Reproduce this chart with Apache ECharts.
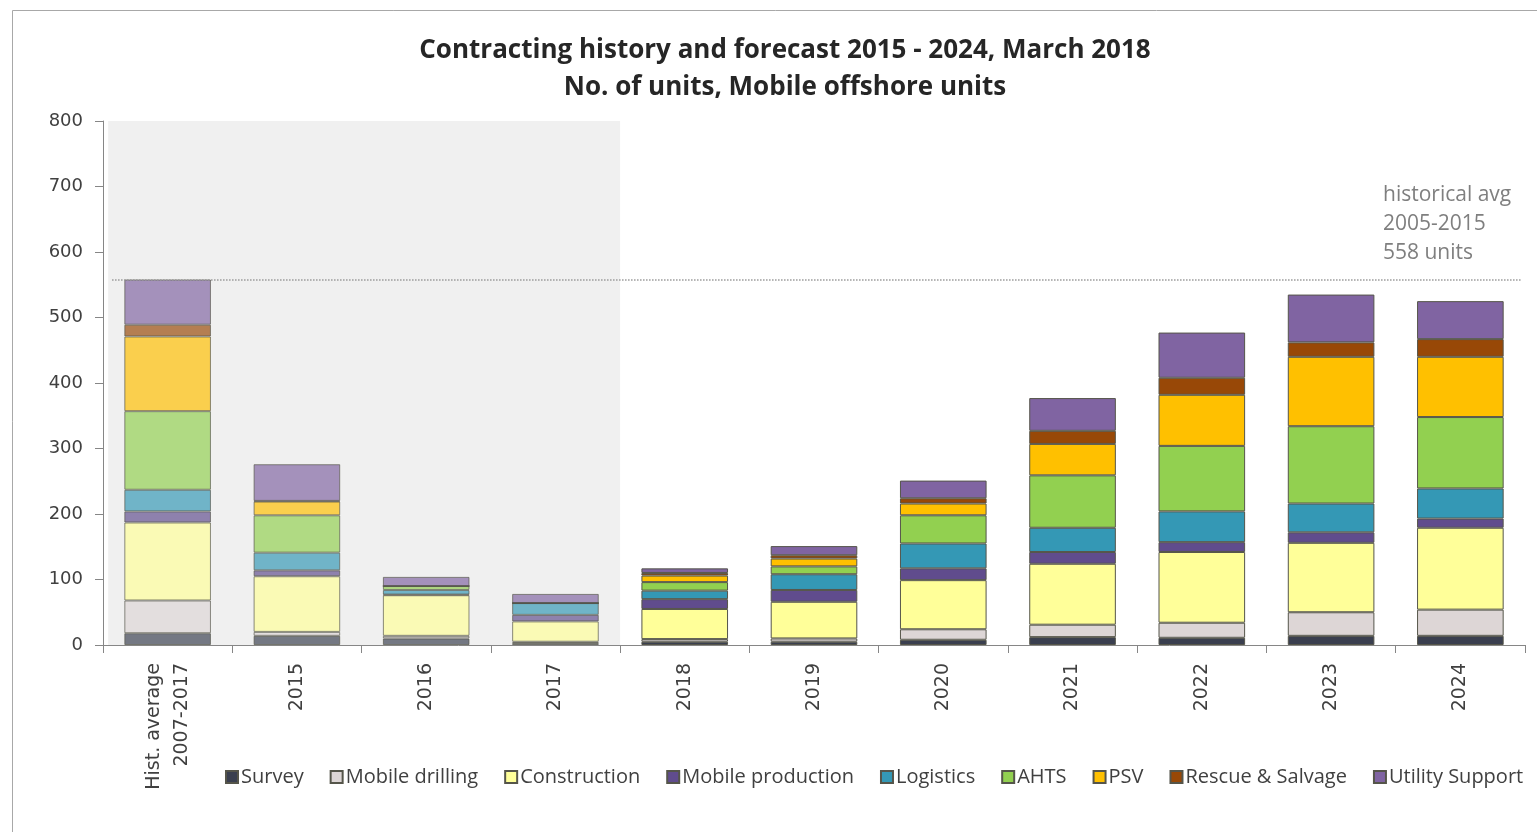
<!DOCTYPE html>
<html>
<head>
<meta charset="utf-8">
<script src="https://cdn.jsdelivr.net/npm/echarts@6/dist/echarts.min.js"></script>
<style>
html,body{margin:0;padding:0;background:#fff;}
#chart{width:1537px;height:832px;}
</style>
</head>
<body>
<div id="chart"></div>
<script>
const categories = ['Hist. average\n2007-2017','2015','2016','2017','2018','2019','2020','2021','2022','2023','2024'];
const yTicks = [0,100,200,300,400,500,600,700,800];
const histAvg = 558;
const histCount = 4; // first 4 categories are history (shaded)

const survey           = [18, 14, 10,  3,  5,  5,  8, 12,  11,  14,  14];
const mobileDrilling   = [50,  6,  4,  2,  4,  5, 16, 19,  23,  36,  40];
const construction     = [119,85, 62, 31, 46, 56, 75, 93, 108, 106, 125];
const mobileProduction = [17,  9,  1, 10, 15, 18, 18, 18,  15,  16,  14];
const logistics        = [33, 27,  7, 18, 13, 24, 38, 37,  47,  44,  46];
const ahts             = [120,57,  6,  0, 13, 12, 43, 80, 100, 118, 109];
const psv              = [114,21,  0,  0, 10, 12, 18, 48,  78, 106,  92];
const rescueSalvage    = [18,  1,  0,  0,  4,  5,  8, 20,  26,  22,  27];
const utilitySupport   = [69, 56, 14, 14,  7, 14, 27, 50,  69,  73,  58];

const seriesDefs = [
  ['Survey', survey, '#3a3f4f'],
  ['Mobile drilling', mobileDrilling, '#ddd6d6'],
  ['Construction', construction, '#ffff99'],
  ['Mobile production', mobileProduction, '#604c8d'],
  ['Logistics', logistics, '#3498b5'],
  ['AHTS', ahts, '#92d050'],
  ['PSV', psv, '#ffc000'],
  ['Rescue & Salvage', rescueSalvage, '#984807'],
  ['Utility Support', utilitySupport, '#8064a2']
];

const chart = echarts.init(document.getElementById('chart'));

const barSeries = seriesDefs.map(([name, vals, color]) => ({
  name: name,
  type: 'bar',
  stack: 'total',
  barCategoryGap: '33%',
  itemStyle: { color: color, borderColor: '#55554a', borderWidth: 1 },
  data: vals.map((v, i) => i < histCount ? { value: v, itemStyle: { opacity: 0.68 } } : v),
  z: 3
}));

const option = {
  animation: false,
  backgroundColor: '#ffffff',
  title: {
    text: 'Contracting history and forecast 2015 - 2024, March 2018\nNo. of units, Mobile offshore units',
    left: 780,
    top: 27,
    textAlign: 'center',
    textStyle: { fontFamily: 'Open Sans', fontWeight: 'bold', fontSize: 26, lineHeight: 37, color: '#262626' }
  },
  legend: {
    left: 220,
    top: 762,
    itemWidth: 12,
    itemHeight: 12,
    itemGap: 26,
    icon: 'rect',
    textStyle: { fontFamily: 'Open Sans', fontSize: 20, color: '#404040', padding: [0,0,0,-2] },
    data: seriesDefs.map(d => d[0])
  },
  grid: { left: 103, right: 12, top: 121, bottom: 187, containLabel: false },
  xAxis: [{
    type: 'category',
    data: categories,
    axisLine: { lineStyle: { color: '#868686', width: 1 } },
    axisTick: { show: true, length: 8, lineStyle: { color: '#868686' } },
    axisLabel: { rotate: 90, margin: 18, fontFamily: 'DejaVu Sans', fontSize: 19, lineHeight: 28, color: '#404040', interval: 0 }
  }, {
    type: 'value',
    min: 0,
    max: categories.length,
    show: false
  }],
  yAxis: {
    type: 'value',
    min: yTicks[0],
    max: yTicks[yTicks.length - 1],
    interval: 100,
    splitLine: { show: false },
    axisLine: { show: true, lineStyle: { color: '#868686' } },
    axisTick: { show: true, length: 8, lineStyle: { color: '#868686' } },
    axisLabel: { fontFamily: 'DejaVu Sans', fontSize: 18, color: '#404040', margin: 20 }
  },
  series: [
    {
      name: 'bg',
      type: 'line',
      xAxisIndex: 1,
      data: [],
      silent: true,
      z: 1,
      markArea: {
        silent: true,
        itemStyle: { color: '#f0f0f0' },
        data: [[{ xAxis: 0.04, yAxis: yTicks[0] }, { xAxis: histCount, yAxis: yTicks[yTicks.length - 1] }]]
      },
      markLine: {
        silent: true,
        symbol: 'none',
        lineStyle: { type: 'dotted', color: '#9a9a9a', width: 1.5 },
        label: { show: false },
        data: [[{ coord: [0.07, histAvg] }, { coord: [categories.length - 0.03, histAvg] }]]
      }
    },
    ...barSeries
  ],
  graphic: [
    {
      type: 'rect',
      left: 10, top: 8,
      shape: { width: 1540, height: 840 },
      style: { fill: 'none', stroke: '#a8a8a8', lineWidth: 1 },
      silent: true
    },
    {
      type: 'text',
      left: 1383, top: 181,
      style: {
        text: 'historical avg\n2005-2015\n' + histAvg + ' units',
        fontFamily: 'Open Sans', fontSize: 21, lineHeight: 29, fill: '#7f7f7f'
      },
      silent: true
    }
  ]
};

chart.setOption(option);
</script>
</body>
</html>
